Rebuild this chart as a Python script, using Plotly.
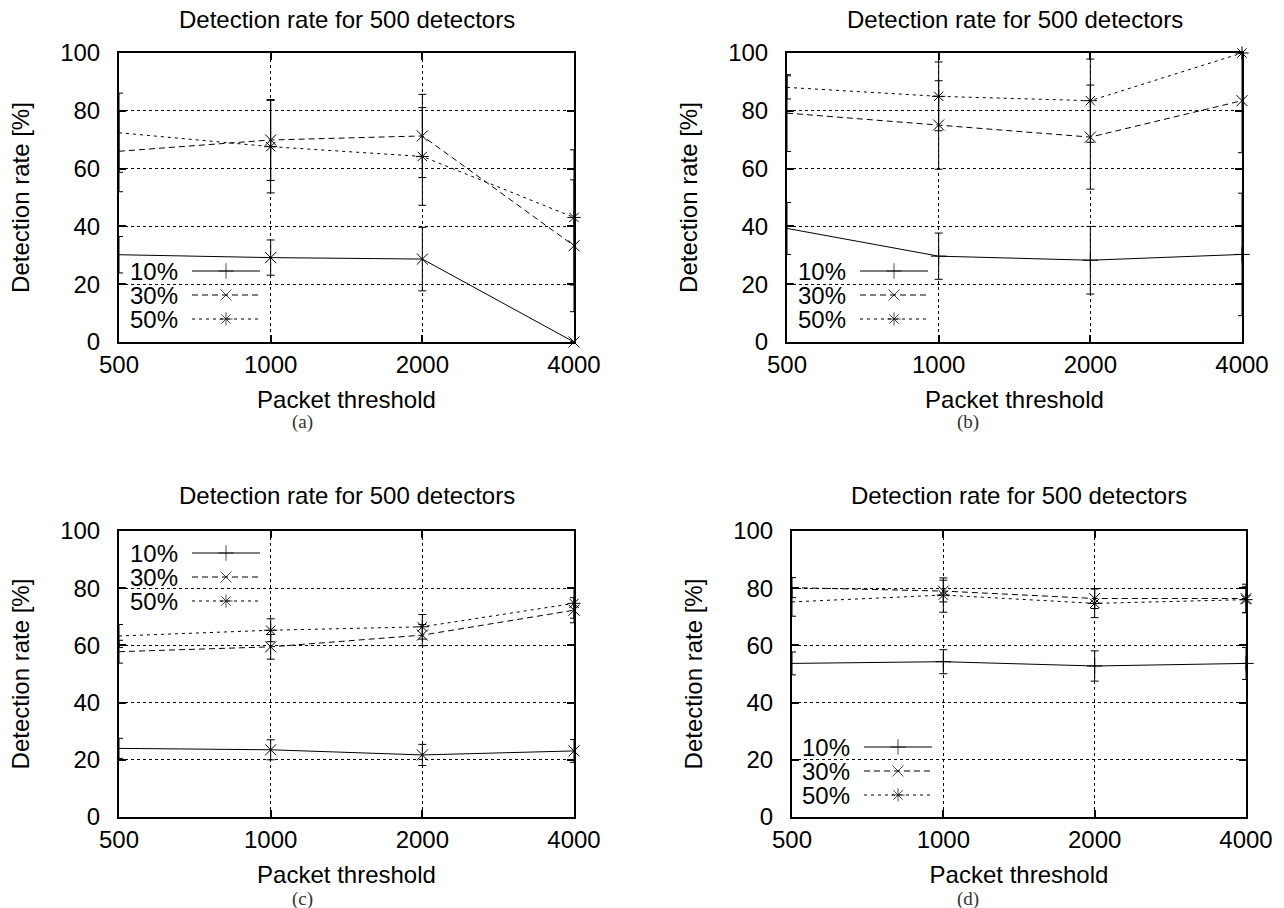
import math
import plotly.graph_objects as go

# ---------------- data ----------------
THRESHOLDS = [500, 1000, 2000, 4000]
X_TICK_LABELS = ["500", "1000", "2000", "4000"]
Y_TICKS = [0, 20, 40, 60, 80, 100]
SERIES_NAMES = ["10%", "30%", "50%"]
PANEL_LABELS = ["(a)", "(b)", "(c)", "(d)"]
TITLE = "Detection rate for 500 detectors"
X_TITLE = "Packet threshold"
Y_TITLE = "Detection rate [%]"

# panel (a)
a_10 = [30.2, 29.2, 28.7, 0.0]
a_10_err = [6.3, 6.1, 11.0, 0.0]
a_30 = [66.0, 69.9, 71.3, 33.3]
a_30_err = [14.0, 14.0, 14.4, 22.8]
a_50 = [72.4, 67.6, 64.2, 43.1]
a_50_err = [13.7, 16.0, 16.9, 23.4]

# panel (b)
b_10 = [39.3, 29.7, 28.3, 30.3]
b_10_err = [9.0, 8.0, 11.7, 21.2]
b_30 = [79.2, 75.1, 70.9, 83.5]
b_30_err = [13.3, 15.3, 18.0, 18.0]
b_50 = [88.1, 85.0, 83.5, 100.0]
b_50_err = [4.0, 11.9, 14.4, 0.0]

# panel (c)
c_10 = [24.0, 23.5, 21.7, 23.1]
c_10_err = [3.5, 3.5, 3.7, 4.0]
c_30 = [57.8, 59.5, 63.6, 72.3]
c_30_err = [4.0, 4.3, 3.7, 4.4]
c_50 = [63.3, 65.3, 66.5, 74.7]
c_50_err = [4.0, 4.0, 4.3, 5.2]

# panel (d)
d_10 = [53.7, 54.3, 52.8, 53.7]
d_10_err = [4.0, 4.2, 5.3, 5.6]
d_30 = [80.2, 79.0, 76.4, 76.4]
d_30_err = [3.5, 3.8, 3.5, 5.0]
d_50 = [75.2, 77.6, 74.7, 76.0]
d_50_err = [5.0, 6.0, 5.0, 4.5]

PANELS = [
    dict(values=[a_10, a_30, a_50], errors=[a_10_err, a_30_err, a_50_err], point_override={"10%": "x-thin-open"}),
    dict(values=[b_10, b_30, b_50], errors=[b_10_err, b_30_err, b_50_err], point_override={}),
    dict(values=[c_10, c_30, c_50], errors=[c_10_err, c_30_err, c_50_err], point_override={"10%": "x-thin-open"}),
    dict(values=[d_10, d_30, d_50], errors=[d_10_err, d_30_err, d_50_err], point_override={}),
]

# ---------------- styles / layout ----------------
W, H = 1284, 908
FONT = "Liberation Sans, Arial, Helvetica, sans-serif"
SERIF = "Liberation Serif, Times New Roman, serif"
STYLE = {
    "10%": dict(dash="solid", symbol="cross-thin-open"),
    "30%": dict(dash="6px,4px", symbol="x-thin-open"),
    "50%": dict(dash="3px,4px", symbol="asterisk-open"),
}
# plot boxes in pixels: (left, right, top, bottom)
PANEL_BOX = [(119, 574, 53, 342), (787, 1242, 53, 342), (119, 574, 531, 817), (792, 1246, 531, 817)]
TITLE_Y = [19, 19, 495, 495]
CAPTION_POS = [(302, 422), (968, 422), (302, 899), (968, 899)]
LEGEND_POS = [(130, 271), (798, 271), (130, 553), (802, 747)]
LEGEND_STEP = 24

fig = go.Figure()
layout = dict(
    template="none",
    width=W, height=H, autosize=False,
    margin=dict(l=0, r=0, t=0, b=0, pad=0),
    paper_bgcolor="white", plot_bgcolor="rgba(0,0,0,0)",
    showlegend=False,
)
annotations = []

for i, (panel, box) in enumerate(zip(PANELS, PANEL_BOX)):
    n = i + 1
    xa = "x" if n == 1 else f"x{n}"
    ya = "y" if n == 1 else f"y{n}"
    x0, x1, y0, y1 = box
    for name, vals, errs in zip(SERIES_NAMES, panel["values"], panel["errors"]):
        st = STYLE[name]
        sym = panel["point_override"].get(name, st["symbol"])
        fig.add_trace(go.Scatter(
            x=THRESHOLDS, y=vals, name=name, mode="lines+markers",
            error_y=dict(type="data", array=errs, visible=True, color="black", thickness=1, width=4),
            line=dict(color="black", width=1, dash=st["dash"]),
            marker=dict(symbol=sym, size=11, color="black", line=dict(color="black", width=1)),
            xaxis=xa, yaxis=ya, cliponaxis=False, showlegend=False,
        ))
    axis_common = dict(
        automargin=False,
        ticks="inside", ticklen=7, tickwidth=1.5, tickcolor="black",
        showline=True, linewidth=2, linecolor="black", mirror="allticks",
        showgrid=True, gridcolor="black", gridwidth=1, griddash="dot",
        zeroline=False, tickfont=dict(family=FONT, size=24, color="black"),
        fixedrange=True,
    )
    layout["xaxis" if n == 1 else f"xaxis{n}"] = dict(
        axis_common, type="log",
        range=[math.log10(THRESHOLDS[0]), math.log10(THRESHOLDS[-1])],
        tickvals=THRESHOLDS, ticktext=X_TICK_LABELS,
        domain=[x0 / W, x1 / W], anchor=ya, ticklabelstandoff=0,
        title=dict(text=X_TITLE, font=dict(family=FONT, size=24, color="black"), standoff=14),
    )
    layout["yaxis" if n == 1 else f"yaxis{n}"] = dict(
        axis_common, range=[0, 100], tickvals=Y_TICKS,
        domain=[1 - y1 / H, 1 - y0 / H], anchor=xa, ticklabelstandoff=12,
        title=dict(text=Y_TITLE, font=dict(family=FONT, size=24, color="black"), standoff=24),
    )
    # title and caption
    annotations.append(dict(text=TITLE, x=(x0 + x1) / 2, y=TITLE_Y[i], xref="x5", yref="y5",
                            showarrow=False, xanchor="center", yanchor="middle",
                            font=dict(family=FONT, size=24, color="black")))
    cx, cy = CAPTION_POS[i]
    annotations.append(dict(text=PANEL_LABELS[i], x=cx, y=cy, xref="x5", yref="y5",
                            showarrow=False, xanchor="center", yanchor="middle",
                            font=dict(family=SERIF, size=19, color="#333333")))
    # gnuplot-style key: label on the left, sample on the right
    lx, ly = LEGEND_POS[i]
    for k, name in enumerate(SERIES_NAMES):
        yy = ly + k * LEGEND_STEP
        st = STYLE[name]
        annotations.append(dict(text=name, x=lx - 2, y=yy, xref="x5", yref="y5",
                                showarrow=False, xanchor="left", yanchor="middle",
                                height=23, valign="middle",
                                font=dict(family=FONT, size=24, color="black")))
        fig.add_trace(go.Scatter(
            x=[lx + 62, lx + 96, lx + 130], y=[yy, yy, yy], mode="lines+markers",
            line=dict(color="black", width=1, dash=st["dash"]),
            marker=dict(symbol=st["symbol"], size=[0, 11, 0], color="black",
                        line=dict(color="black", width=1)),
            xaxis="x5", yaxis="y5", showlegend=False, hoverinfo="skip",
        ))

layout["xaxis5"] = dict(domain=[0, 1], range=[0, W], visible=False, fixedrange=True,
                        anchor="y5", automargin=False)
layout["yaxis5"] = dict(domain=[0, 1], range=[H, 0], visible=False, fixedrange=True,
                        anchor="x5", automargin=False)
layout["annotations"] = annotations
fig.update_layout(**layout)
fig.write_html(
    "out.html",
    config={"displayModeBar": False},
    post_script="document.body.style.margin='0';document.body.style.overflow='hidden';",
)
